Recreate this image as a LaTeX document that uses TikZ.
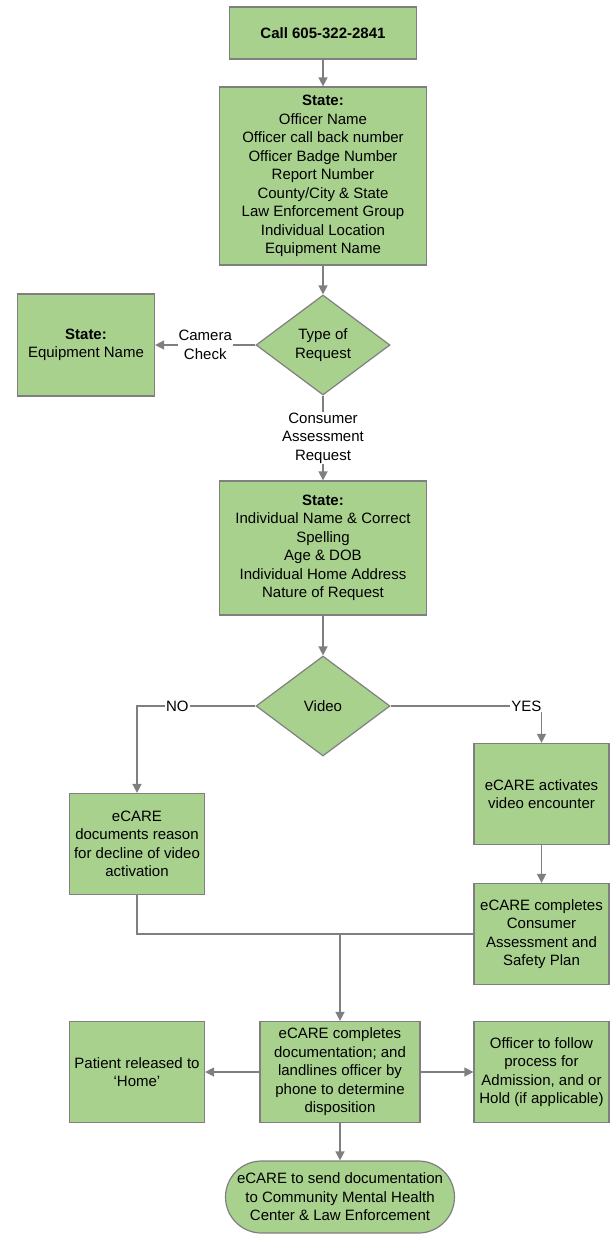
\documentclass[tikz,border=0pt]{standalone}
\usepackage{fontspec}
\setmainfont{Liberation Sans}
\usetikzlibrary{shapes.geometric,arrows.meta}
\definecolor{boxgreen}{HTML}{A9D18E}
\definecolor{linegray}{HTML}{7F7F7F}

\begin{document}
\begin{tikzpicture}[x=1pt,y=-1pt,
  font=\fontsize{15}{18.5}\selectfont,
  >={Triangle[length=9pt,width=9pt]},
  flow/.style={draw=linegray,line width=1.4pt},
  box/.style={draw=linegray,line width=1.2pt,fill=boxgreen,align=center,inner sep=2pt},
  decision/.style={diamond,draw=linegray,line width=1.2pt,fill=boxgreen,align=center,inner sep=0pt,
    minimum width=134pt,minimum height=100pt},
  lbl/.style={fill=white,inner sep=1pt,align=center}]
\useasboundingbox (0,0) rectangle (610,1235);
% top of the chart
\node[box,minimum width=187pt,minimum height=52pt] (call) at (323,33) {\textbf{Call 605-322-2841}};
\node[box,minimum width=207pt,minimum height=178pt] (info) at (323,176)
  {\textbf{State:}\\Officer Name\\Officer call back number\\Officer Badge Number\\Report Number\\County/City \& State\\Law Enforcement Group\\Individual Location\\Equipment Name};
\node[decision] (type) at (323,345) {Type of\\Request};
\node[box,minimum width=137pt,minimum height=102pt] (equip) at (86,345) {\textbf{State:}\\Equipment Name};
\node[box,minimum width=207pt,minimum height=134pt] (person) at (323,548)
  {\textbf{State:}\\Individual Name \& Correct\\Spelling\\Age \& DOB\\Individual Home Address\\Nature of Request};
\node[decision] (video) at (323,706) {Video};
% branches
\node[box,minimum width=135pt,minimum height=101pt] (decline) at (137,844)
  {eCARE\\documents reason\\for decline of video\\activation};
\node[box,minimum width=135pt,minimum height=101pt] (activate) at (541.5,794) {eCARE activates\\video encounter};
\node[box,minimum width=135pt,minimum height=101pt] (assess) at (541.5,934)
  {eCARE completes\\Consumer\\Assessment and\\Safety Plan};
% bottom
\node[box,minimum width=160pt,minimum height=101pt] (dispo) at (340,1072)
  {eCARE completes\\documentation; and\\landlines officer by\\phone to determine\\disposition};
\node[box,minimum width=135pt,minimum height=101pt] (home) at (137,1072) {Patient released to\\`Home'};
\node[box,minimum width=135pt,minimum height=101pt] (admit) at (541.5,1072)
  {Officer to follow\\process for\\Admission, and or\\Hold (if applicable)};
\node[box,rounded corners=36pt,minimum width=229pt,minimum height=72pt] (send) at (340,1197)
  {eCARE to send documentation\\to Community Mental Health\\Center \& Law Enforcement};
\coordinate (merge) at (dispo.north |- assess.west);

\draw[flow,->] (call) -- (info);
\draw[flow,->] (info) -- (type);
\draw[flow,->] (type) -- node[lbl] {Camera\\Check} (equip);
\draw[flow,->] (type) -- node[lbl] {Consumer\\Assessment\\Request} (person);
\draw[flow,->] (person) -- (video);
\draw[flow,->] (video.west) -| node[lbl,pos=0.33] {NO} (decline.north);
\draw[flow,->] (video.east) -| node[lbl,pos=0.45] {YES} (activate.north);
\draw[flow,->] (activate) -- (assess);
\draw[flow] (decline.south) |- (assess.west);
\draw[flow,->] (merge) -- (dispo);
\draw[flow,->] (dispo) -- (home);
\draw[flow,->] (dispo) -- (admit);
\draw[flow,->] (dispo) -- (send);
\end{tikzpicture}
\end{document}
